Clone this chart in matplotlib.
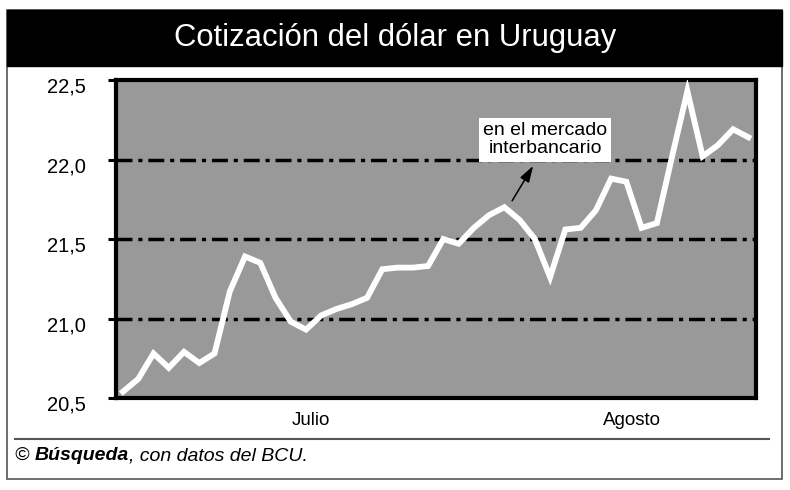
import matplotlib
matplotlib.use("Agg")
import matplotlib.pyplot as plt
import matplotlib.transforms as mtransforms
from matplotlib.patches import Rectangle
from matplotlib.lines import Line2D
from matplotlib import font_manager

plt.rcParams['font.family'] = ['Liberation Sans', 'DejaVu Sans']
plt.rcParams['lines.scale_dashes'] = False

names = {f.name for f in font_manager.fontManager.ttflist}
narrow = 'Liberation Sans Narrow' in names

# ---- data ----
title = "Cotización del dólar en Uruguay"
values = [20.54, 20.62, 20.78, 20.69, 20.79, 20.72, 20.78, 21.17, 21.39, 21.35,
          21.13, 20.98, 20.93, 21.02, 21.06, 21.09, 21.13, 21.31, 21.32, 21.32,
          21.33, 21.50, 21.47, 21.57, 21.65, 21.70, 21.62, 21.50, 21.26, 21.56,
          21.57, 21.68, 21.88, 21.86, 21.57, 21.60, 22.02, 22.43, 22.02, 22.09,
          22.19, 22.14]
y_ticks = [20.5, 21.0, 21.5, 22.0, 22.5]
y_tick_labels = ["20,5", "21,0", "21,5", "22,0", "22,5"]
month_labels = ["Julio", "Agosto"]
month_positions = [12.3, 33.4]
annotation_text = "en el mercado\ninterbancario"
source_bold = "Búsqueda"
source_rest = ", con datos del BCU."

W, H = 790, 490
fig = plt.figure(figsize=(W / 100, H / 100), dpi=100, facecolor='white')

def fx(px):
    return px / W

def fy(py):
    return 1 - py / H

# outer border
fig.patches.append(Rectangle((fx(7), fy(479)), fx(782) - fx(7), fy(10) - fy(479),
                             transform=fig.transFigure, facecolor='none',
                             edgecolor='#555555', linewidth=1.2, zorder=0))
# title band
fig.patches.append(Rectangle((fx(7), fy(66)), fx(782) - fx(7), fy(10) - fy(66),
                             transform=fig.transFigure, facecolor='black',
                             edgecolor='black', linewidth=1.0, zorder=1))
if narrow:
    fig.text(0.5, fy(38), title, color='white', fontsize=26, ha='center', va='center',
             family=['Liberation Sans Narrow', 'DejaVu Sans'], zorder=2)
else:
    fig.text(0.5, fy(38), title, color='white', fontsize=22.3, ha='center', va='center',
             zorder=2)

ax = fig.add_axes([fx(116), fy(398), fx(756) - fx(116), fy(80) - fy(398)])
ax.set_facecolor('#999999')
x = list(range(len(values)))
for yv in [21.0, 21.5, 22.0]:
    ax.axhline(yv, color='black', linewidth=2.5, linestyle=(0, (11.5, 4.2, 3.0, 4.2)),
               zorder=1)
ax.plot(x, values, color='white', linewidth=4.2, solid_joinstyle='miter', zorder=3)
ax.set_xlim(-0.46, 41.5)
ax.set_ylim(20.5, 22.5)

ax.set_yticks(y_ticks)
ax.set_yticklabels(y_tick_labels, fontsize=14.5)
ax.tick_params(axis='y', direction='out', length=6, width=2.2, pad=16, color='black')
offset = mtransforms.ScaledTranslation(0, -5 / 100, fig.dpi_scale_trans)
for lab in ax.get_yticklabels():
    lab.set_transform(lab.get_transform() + offset)

ax.set_xticks(month_positions)
ax.set_xticklabels(month_labels, fontsize=13.5)
ax.tick_params(axis='x', length=0, pad=10)

for s in ax.spines.values():
    s.set_linewidth(3.0)
    s.set_color('black')

ax.text(27.67, 22.125, annotation_text, fontsize=14, ha='center', va='center',
        linespacing=1.1,
        bbox=dict(boxstyle='square,pad=0.22', facecolor='white', edgecolor='none'),
        zorder=5)
ax.annotate('', xy=(26.89, 21.96), xytext=(25.51, 21.74),
            arrowprops=dict(arrowstyle='-|>,head_length=0.7,head_width=0.22',
                            color='black', lw=1.1,
                            mutation_scale=14, shrinkA=0, shrinkB=0),
            zorder=6)

# footer line
fig.lines.append(Line2D([fx(15), fx(769)], [fy(439), fy(439)], transform=fig.transFigure,
                        color='#555555', linewidth=1.5))

fs = 14
t1 = fig.text(fx(15), fy(460), "© ", fontsize=fs, style='italic', va='baseline')
t2 = fig.text(0, 0, source_bold, fontsize=fs, style='italic', weight='bold', va='baseline')
t3 = fig.text(0, 0, source_rest, fontsize=fs, style='italic', va='baseline')
fig.canvas.draw()
r = fig.canvas.get_renderer()
bb1 = t1.get_window_extent(r)
t2.set_position((bb1.x1 / W, fy(460)))
fig.canvas.draw()
bb2 = t2.get_window_extent(r)
t3.set_position((bb2.x1 / W, fy(460)))

fig.savefig("out.png", dpi=100)
